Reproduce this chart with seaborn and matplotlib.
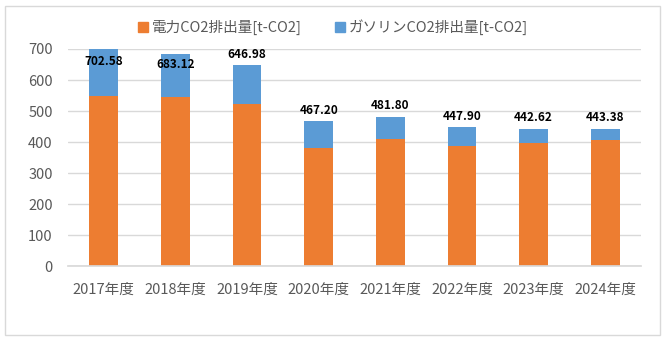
import matplotlib
matplotlib.use("Agg")
import matplotlib.pyplot as plt
import seaborn as sns
import pandas as pd
from matplotlib.patches import Rectangle
from matplotlib.lines import Line2D

years = ["2017年度", "2018年度", "2019年度", "2020年度", "2021年度", "2022年度", "2023年度", "2024年度"]
electricity = [548.00, 545.00, 523.00, 382.00, 410.00, 388.00, 397.00, 407.00]
gasoline = [154.58, 138.12, 123.98, 85.20, 71.80, 59.90, 45.62, 36.38]
series_names = ["電力CO2排出量[t-CO2]", "ガソリンCO2排出量[t-CO2]"]
yticks = [0, 100, 200, 300, 400, 500, 600, 700]

sns.set_theme(style="white")
plt.rcParams["font.family"] = ["Noto Sans CJK JP", "DejaVu Sans"]

ORANGE = "#ED7D31"
BLUE = "#5B9BD5"
GRID = "#D9D9D9"
TXT = "#595959"

df = pd.DataFrame({"year": years, "elec": electricity, "gas": gasoline})
df["total"] = df["elec"] + df["gas"]

W, H = 665, 341
fig = plt.figure(figsize=(W / 100, H / 100), dpi=100)
fig.patch.set_facecolor("white")
fig.patches.append(Rectangle((5 / W, 6 / H), 655 / W, 329 / H, transform=fig.transFigure,
                             fill=False, edgecolor=GRID, linewidth=1))

ax = fig.add_axes([68 / W, 1 - 266.3 / H, (641 - 68) / W, (266.3 - 49) / H])

sns.barplot(data=df, x="year", y="total", color=BLUE, saturation=1, width=0.4, ax=ax,
            zorder=3, linewidth=0, edgecolor="none")
sns.barplot(data=df, x="year", y="elec", color=ORANGE, saturation=1, width=0.4, ax=ax,
            zorder=3, linewidth=0, edgecolor="none")

ax.set_ylim(0, 700)
ax.set_xlim(-0.5, len(years) - 0.5)
ax.set_yticks(yticks)
ax.set_yticklabels([str(v) for v in yticks])
ax.set_xlabel("")
ax.set_ylabel("")
ax.grid(axis="y", color=GRID, linewidth=1, zorder=0)
ax.set_axisbelow(True)
for s in ["left", "right", "top"]:
    ax.spines[s].set_visible(False)
ax.spines["bottom"].set_color(GRID)
ax.spines["bottom"].set_zorder(4)
ax.tick_params(axis="both", length=0, colors=TXT, labelsize=10.5)
ax.tick_params(axis="x", pad=12)
ax.tick_params(axis="y", pad=11)

for i, t in enumerate(df["total"]):
    y = t + 36
    if y > 690:
        y = min(t - 32, 660)
    ax.text(i, y, f"{t:.2f}", ha="center", va="center", fontsize=8.5,
            fontweight="bold", color="black", zorder=5, clip_on=False)

handles = [Line2D([], [], marker="s", linestyle="none", markersize=7, color=c)
           for c in (ORANGE, BLUE)]
fig.legend(handles, series_names, loc="center", bbox_to_anchor=(0.5, 1 - 27 / H),
           ncol=2, frameon=False, fontsize=10.5, labelcolor=TXT,
           handletextpad=0.2, columnspacing=2.2, handlelength=0.8)

fig.savefig("out.png", dpi=100)
